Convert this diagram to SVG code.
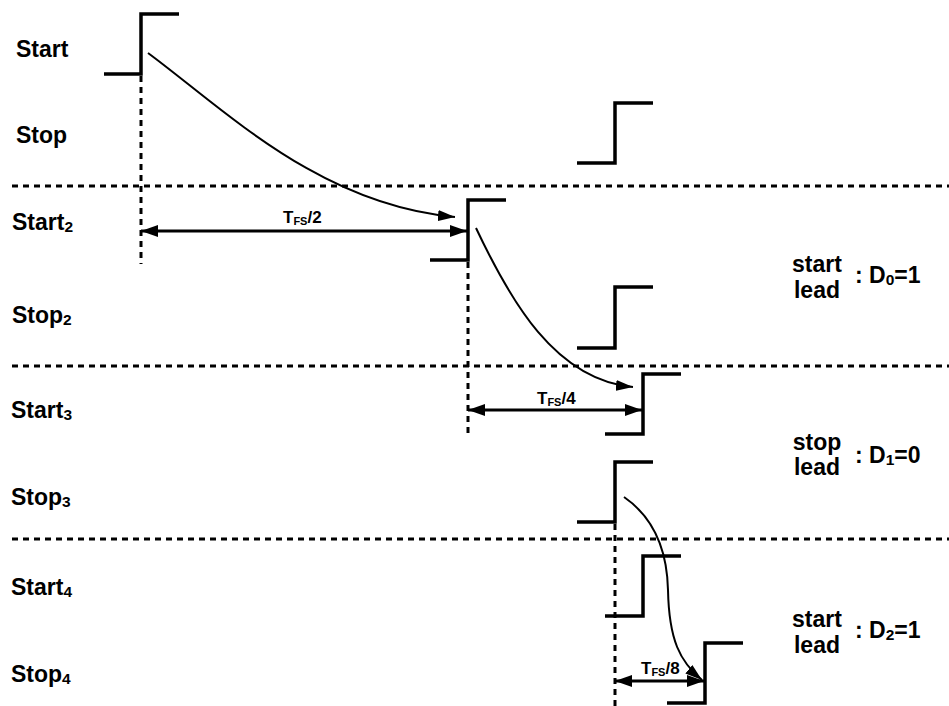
<svg xmlns="http://www.w3.org/2000/svg" width="949" height="706" viewBox="0 0 949 706">
<defs>
<style>
.step{fill:none;stroke:#000;stroke-width:3.5;stroke-linejoin:miter;stroke-linecap:butt}
.dash{fill:none;stroke:#000;stroke-width:3;stroke-dasharray:6 5}
.curve{fill:none;stroke:#000;stroke-width:2}
.dim{fill:none;stroke:#000;stroke-width:3}
.lbl{font-family:"Liberation Sans",Arial,sans-serif;font-weight:bold;font-size:23px;fill:#000}
.sub{font-size:15.5px}
.tl{font-family:"Liberation Sans",Arial,sans-serif;font-weight:bold;font-size:17px;fill:#000}
.tsub{font-size:11px}
</style>
<marker id="ah" markerUnits="userSpaceOnUse" markerWidth="18" markerHeight="12" refX="17" refY="6" orient="auto-start-reverse" viewBox="0 0 18 12">
<path d="M0,0 L17,6 L0,12 z" fill="#000"/>
</marker>
<marker id="ahc" markerUnits="userSpaceOnUse" markerWidth="18" markerHeight="12" refX="17" refY="6" orient="auto" viewBox="0 0 18 12">
<path d="M0,0.5 L17,6 L0,11.5 z" fill="#000"/>
</marker>
</defs>
<rect width="949" height="706" fill="#fff"/>

<g id="separators">
<line class="dash" x1="12" y1="186" x2="949" y2="186"/>
<line class="dash" x1="12" y1="366" x2="949" y2="366"/>
<line class="dash" x1="12" y1="539" x2="949" y2="539"/>
<line class="dash" x1="141" y1="76" x2="141" y2="264"/>
<line class="dash" x1="468" y1="262" x2="468" y2="437"/>
<line class="dash" x1="615" y1="524" x2="615" y2="706"/>
</g>

<g id="labels">
<text class="lbl" x="16" y="57">Start</text>
<text class="lbl" x="16" y="143">Stop</text>
<text class="lbl" x="12" y="230">Start<tspan class="sub" dy="2">2</tspan></text>
<text class="lbl" x="12" y="323">Stop<tspan class="sub" dy="2">2</tspan></text>
<text class="lbl" x="11" y="418">Start<tspan class="sub" dy="2">3</tspan></text>
<text class="lbl" x="11" y="505">Stop<tspan class="sub" dy="2">3</tspan></text>
<text class="lbl" x="11" y="595">Start<tspan class="sub" dy="2">4</tspan></text>
<text class="lbl" x="11" y="682">Stop<tspan class="sub" dy="2">4</tspan></text>
</g>

<g id="sig-start"><path class="step" d="M104,74 H141 V14 H179"/></g>
<g id="sig-stop"><path class="step" d="M577,163 H615 V103 H653"/></g>
<g id="sig-start2"><path class="step" d="M430,260 H468 V200 H506"/></g>
<g id="sig-stop2"><path class="step" d="M577,348 H615 V287 H653"/></g>
<g id="sig-start3"><path class="step" d="M605,434 H643 V374 H681"/></g>
<g id="sig-stop3"><path class="step" d="M577,522 H615 V462 H653"/></g>
<g id="sig-start4"><path class="step" d="M605,616 H643 V556 H681"/></g>
<g id="sig-stop4"><path class="step" d="M667,703 H705 V643 H743"/></g>

<g id="connectors">
<path class="curve" marker-end="url(#ahc)" d="M148,53 C225,110 320,205 455,217"/>
<path class="curve" marker-end="url(#ahc)" d="M476,228 C510,300 555,380 633,387"/>
<path class="curve" marker-end="url(#ahc)" d="M624,497 C650,515 667,545 668,590 C669,640 680,662 702,680"/>
<line class="dim" x1="141" y1="231" x2="467" y2="231" marker-start="url(#ah)" marker-end="url(#ah)"/>
<line class="dim" x1="468" y1="410" x2="642" y2="410" marker-start="url(#ah)" marker-end="url(#ah)"/>
<line class="dim" x1="615" y1="681" x2="704" y2="681" marker-start="url(#ah)" marker-end="url(#ah)"/>
</g>

<g id="dim-labels">
<text class="tl" x="283" y="223">T<tspan class="tsub" dy="2">FS</tspan><tspan dy="-2">/2</tspan></text>
<text class="tl" x="537" y="404">T<tspan class="tsub" dy="2">FS</tspan><tspan dy="-2">/4</tspan></text>
<text class="tl" x="641" y="674">T<tspan class="tsub" dy="2">FS</tspan><tspan dy="-2">/8</tspan></text>
</g>

<g id="lead1">
<text class="lbl" x="817" y="272" text-anchor="middle">start</text>
<text class="lbl" x="817" y="298" text-anchor="middle">lead</text>
<text class="lbl" x="855" y="283">: D<tspan class="sub" dy="2">0</tspan><tspan dy="-2">=1</tspan></text>
</g>
<g id="lead2">
<text class="lbl" x="817" y="450" text-anchor="middle">stop</text>
<text class="lbl" x="817" y="475" text-anchor="middle">lead</text>
<text class="lbl" x="855" y="463">: D<tspan class="sub" dy="2">1</tspan><tspan dy="-2">=0</tspan></text>
</g>
<g id="lead3">
<text class="lbl" x="817" y="627" text-anchor="middle">start</text>
<text class="lbl" x="817" y="653" text-anchor="middle">lead</text>
<text class="lbl" x="855" y="638">: D<tspan class="sub" dy="2">2</tspan><tspan dy="-2">=1</tspan></text>
</g>
</svg>
